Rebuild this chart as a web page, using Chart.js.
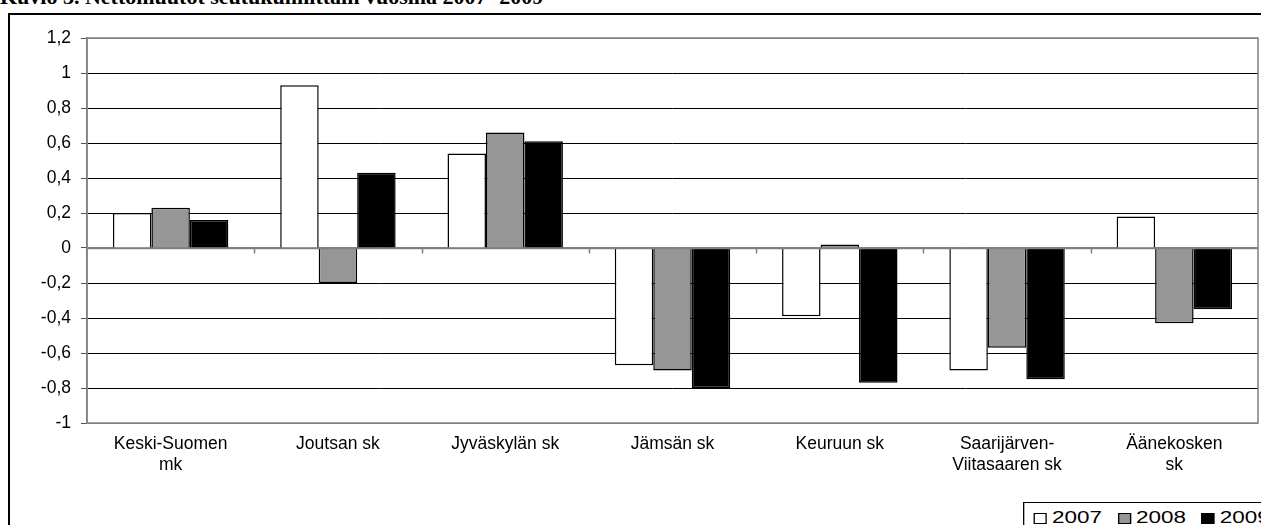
<!DOCTYPE html>
<html>
<head>
<meta charset="utf-8">
<script src="https://cdn.jsdelivr.net/npm/chart.js@4/dist/chart.umd.min.js"></script>
<style>
    body { margin: 0; width: 1261px; height: 525px; overflow: hidden; background: #fff; position: relative; }
    #otsikko { position: absolute; left: 0; top: -14px; font: bold 22px "Liberation Serif", serif; line-height: 22px; white-space: nowrap; }
    #kehys { position: absolute; left: 8px; top: 13px; width: 1300px; height: 600px; border-left: 2px solid #000; border-top: 2px solid #000; }
    #kuvaaja { position: absolute; left: 0; top: 0; }
    #selite { position: absolute; left: 1023px; top: 502px; width: 300px; height: 40px; border: 1px solid #000; background: #fff;
        font: 17px "Liberation Sans", Arial, sans-serif; white-space: nowrap; padding: 5px 0 0 7px; box-sizing: border-box;
        transform: scaleX(1.32); transform-origin: left top; }
    #selite span.ruutu { display: inline-block; width: 8px; height: 9px; border: 1px solid #000; margin-right: 4px; vertical-align: -1px; }
    #selite span.teksti { margin-right: 7px; }
</style>
</head>
<body>
<div id="otsikko">Kuvio 3. Nettomuutot seutukunnittain vuosina 2007- 2009</div>
<div id="kehys"></div>
<canvas id="kuvaaja" width="1261" height="525"></canvas>
<div id="selite">
    <span class="ruutu" style="background:#fff"></span><span class="teksti">2007</span>
    <span class="ruutu" style="background:#969696"></span><span class="teksti">2008</span>
    <span class="ruutu" style="background:#000"></span><span class="teksti">2009</span>
</div>
<script>
/* Seutukunnat */
const seutukunnat = [
    ['Keski-Suomen', 'mk'],
    'Joutsan sk',
    'Jyväskylän sk',
    'Jämsän sk',
    'Keuruun sk',
    ['Saarijärven-', 'Viitasaaren sk'],
    ['Äänekosken', 'sk']
];
const vuodet = ['2007', '2008', '2009'];

/* Nettomuutot (%) */
const muutos2007 = [0.20, 0.93, 0.54, -0.67, -0.39, -0.70, 0.18];
const muutos2008 = [0.23, -0.20, 0.66, -0.70, 0.02, -0.57, -0.43];
const muutos2009 = [0.16, 0.43, 0.61, -0.80, -0.77, -0.75, -0.35];

const yTicks = [-1, -0.8, -0.6, -0.4, -0.2, 0, 0.2, 0.4, 0.6, 0.8, 1, 1.2];

const fontti = { family: '"Liberation Sans", Arial, sans-serif', size: 17.5, lineHeight: 1.2 };

/* Plot-alueen reunat ja nollaviivan pikkuviivat */
const reunat = {
    id: 'reunat',
    afterDatasetsDraw(chart) {
        const { ctx, chartArea: a, scales: { x, y } } = chart;
        ctx.save();
        ctx.strokeStyle = '#808080';
        ctx.lineWidth = 1.5;
        ctx.strokeRect(a.left, a.top, a.right - a.left, a.bottom - a.top);
        const y0 = Math.round(y.getPixelForValue(0)) + 0.5;
        ctx.beginPath();
        ctx.moveTo(a.left, y0);
        ctx.lineTo(a.right, y0);
        const leveys = (a.right - a.left) / seutukunnat.length;
        for (let i = 1; i < seutukunnat.length; i++) {
            const xx = Math.round(a.left + i * leveys) + 0.5;
            ctx.moveTo(xx, y0);
            ctx.lineTo(xx, y0 + 5);
        }
        ctx.stroke();
        ctx.restore();
    }
};

const data = {
    labels: seutukunnat,
    datasets: [
        { label: vuodet[0], data: muutos2007, backgroundColor: '#ffffff', borderColor: '#000', borderWidth: 1.5 },
        { label: vuodet[1], data: muutos2008, backgroundColor: '#969696', borderColor: '#000', borderWidth: 1.5 },
        { label: vuodet[2], data: muutos2009, backgroundColor: '#000000', borderColor: '#000', borderWidth: 1.5 }
    ]
};

const config = {
    type: 'bar',
    data: data,
    plugins: [reunat],
    options: {
        responsive: false,
        animation: false,
        layout: { padding: { top: 38, right: 3, bottom: 0, left: 0 } },
        datasets: { bar: { barPercentage: 1, categoryPercentage: 0.69 } },
        plugins: { legend: { display: false }, tooltip: { enabled: false } },
        scales: {
            x: {
                grid: { display: false, drawTicks: false },
                border: { display: false },
                ticks: { color: '#000', font: fontti, padding: 11, maxRotation: 0, autoSkip: false },
                afterFit: (s) => { s.height = 102; }
            },
            y: {
                min: -1,
                max: 1.2,
                afterBuildTicks: (s) => { s.ticks = yTicks.map(v => ({ value: v })); },
                ticks: {
                    color: '#000',
                    font: fontti,
                    padding: 10,
                    callback: (v) => String(Math.round(v * 10) / 10).replace('.', ',')
                },
                grid: {
                    color: (c) => (c.tick && (c.tick.value === 0 || c.tick.value === 1.2 || c.tick.value === -1)) ? '#808080' : '#000',
                    tickColor: '#555',
                    tickLength: 6,
                    lineWidth: 1
                },
                border: { display: true, color: '#808080', width: 1.5 },
                afterFit: (s) => { s.width = 87; }
            }
        }
    }
};

new Chart(document.getElementById('kuvaaja'), config);
</script>
</body>
</html>
